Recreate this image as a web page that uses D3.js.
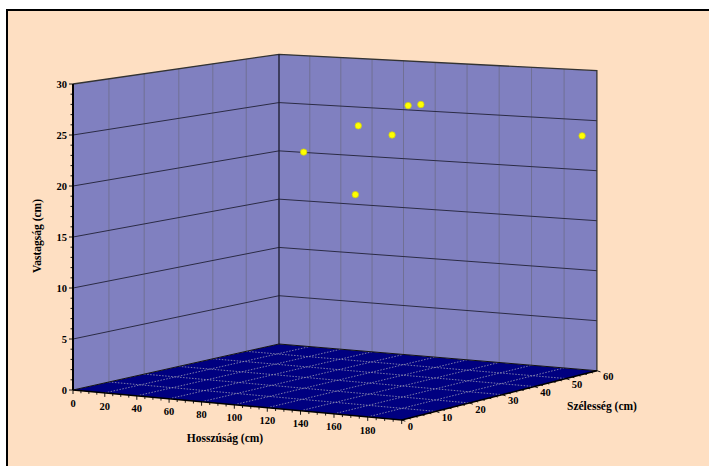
<!DOCTYPE html>
<html><head><meta charset="utf-8">
<script src="https://cdn.jsdelivr.net/npm/d3@7"></script>
<style>body{margin:0;background:#fff}svg{display:block}</style>
</head><body><svg id="c" width="709" height="466"></svg>
<script>
// ---- data ----
const lengthVals = [58, 82, 111, 93, 93, 107, 191];      // Hosszúság (cm)
const widthVals  = [40, 45, 30, 50, 55, 52, 60];         // Szélesség (cm)
const thickVals  = [21.6, 24.2, 18.5, 23.1, 25.8, 26.2, 23.4]; // Vastagság (cm)
const xTicks = [0, 20, 40, 60, 80, 100, 120, 140, 160, 180];
const zTicks = [0, 10, 20, 30, 40, 50, 60];
const yTicks = [0, 5, 10, 15, 20, 25, 30];
const xDomain = [0, 200], zDomain = [0, 60], yDomain = [0, 30];

// ---- scales (normalised box coords) ----
const xs = d3.scaleLinear().domain(xDomain).range([0, 1]);
const zs = d3.scaleLinear().domain(zDomain).range([0, 1]);
const ys = d3.scaleLinear().domain(yDomain).range([0, 1]);

// ---- perspective projection (vertical picture plane) ----
const O = [73, 390], Fr = [401.7, 420], Bk = [279, 344];
const hO = 306, hB = 289.7, hR = 300;
const W2 = hO / hB - 1, W1 = hO / hR - 1 - W2;
const A0 = O[0], B0 = O[1];
const A1 = Fr[0] * (1 + W1) - A0, B1 = Fr[1] * (1 + W1) - B0;
const A2 = Bk[0] * (1 + W2) - A0, B2 = Bk[1] * (1 + W2) - B0;
const B3 = -hO;
function P(x, y, z) {
  const a = xs(x), b = ys(y), c = zs(z);
  const w = 1 + W1 * a + W2 * c;
  return [(A0 + A1 * a + A2 * c) / w, (B0 + B1 * a + B2 * c + B3 * b) / w];
}

const svg = d3.select('#c');
const font = "'Liberation Serif','Times New Roman',serif";
const poly = pts => 'M' + pts.map(p => p.join(',')).join('L') + 'Z';
const seg = (p, q) => 'M' + p.join(',') + 'L' + q.join(',');

// frame
svg.append('rect').attr('x', 7).attr('y', 10).attr('width', 730).attr('height', 480)
  .attr('fill', '#FEDFC2').attr('stroke', '#000').attr('stroke-width', 2);

const [x0, x1] = xDomain, [z0, z1] = zDomain, [y0, y1] = yDomain;

// floor
svg.append('path').attr('d', poly([P(x0,y0,z0), P(x1,y0,z0), P(x1,y0,z1), P(x0,y0,z1)]))
  .attr('fill', '#000080');
const fg = svg.append('g').attr('stroke', '#9a9ab4').attr('stroke-width', 0.8)
  .attr('stroke-dasharray', '1.5,1.5').attr('fill', 'none');
d3.range(x0 + 20, x1, 20).forEach(x => fg.append('path').attr('d', seg(P(x,y0,z0), P(x,y0,z1))));
d3.range(z0 + 10, z1, 10).forEach(z => fg.append('path').attr('d', seg(P(x0,y0,z), P(x1,y0,z))));

// walls
const wallFill = '#8080C0';
svg.append('path').attr('d', poly([P(x0,y0,z0), P(x0,y0,z1), P(x0,y1,z1), P(x0,y1,z0)]))
  .attr('fill', wallFill);
svg.append('path').attr('d', poly([P(x0,y0,z1), P(x1,y0,z1), P(x1,y1,z1), P(x0,y1,z1)]))
  .attr('fill', wallFill);

// wall vertical gridlines
const vg = svg.append('g').attr('stroke', '#6e6e8e').attr('stroke-width', 0.9).attr('fill', 'none');
d3.range(z0 + 10, z1, 10).forEach(z => vg.append('path').attr('d', seg(P(x0,y0,z), P(x0,y1,z))));
d3.range(x0 + 20, x1, 20).forEach(x => vg.append('path').attr('d', seg(P(x,y0,z1), P(x,y1,z1))));

// wall horizontal gridlines
const hg = svg.append('g').attr('stroke', '#2b2b45').attr('stroke-width', 1).attr('fill', 'none');
yTicks.filter(y => y > y0 && y < y1).forEach(y => {
  hg.append('path').attr('d', 'M' + [P(x0,y,z0), P(x0,y,z1), P(x1,y,z1)].map(p => p.join(',')).join('L'));
});

// edges
const eg = svg.append('g').attr('fill', 'none');
eg.append('path').attr('d', 'M' + [P(x0,y1,z0), P(x0,y1,z1), P(x1,y1,z1), P(x1,y0,z1)].map(p => p.join(',')).join('L'))
  .attr('stroke', '#333').attr('stroke-width', 1.3);
eg.append('path').attr('d', seg(P(x0,y0,z1), P(x0,y1,z1))).attr('stroke', '#1a1a2a').attr('stroke-width', 1.3);
eg.append('path').attr('d', 'M' + [P(x0,y0,z0), P(x0,y0,z1), P(x1,y0,z1)].map(p => p.join(',')).join('L'))
  .attr('stroke', '#111').attr('stroke-width', 1);
eg.append('path').attr('d', 'M' + [P(x0,y0,z0), P(x1,y0,z0), P(x1,y0,z1)].map(p => p.join(',')).join('L'))
  .attr('stroke', '#000').attr('stroke-width', 1.5);
eg.append('path').attr('d', seg(P(x0,y0,z0), P(x0,y1,z0))).attr('stroke', '#000').attr('stroke-width', 2);

// ticks
const tg = svg.append('g').attr('stroke', '#000').attr('stroke-width', 0.9);
d3.range(y0, y1 + 0.01, 1).forEach(y => {
  const p = P(x0, y, z0), L = (y % 5 === 0) ? 4 : 2.5;
  tg.append('path').attr('d', seg([p[0] - L, p[1]], p));
});
d3.range(x0, x1 + 0.01, 5).forEach(x => {
  const p = P(x, y0, z0), L = (x % 20 === 0) ? 4 : 2.5;
  tg.append('path').attr('d', seg(p, [p[0], p[1] + L]));
});
d3.range(z0, z1 + 0.01, 2).forEach(z => {
  const p = P(x1, y0, z), L = (z % 10 === 0) ? 4 : 2.5;
  tg.append('path').attr('d', seg(p, [p[0] + L * 0.9, p[1] + L * 0.3]));
});

// tick labels
const lab = svg.append('g').attr('font-family', font).attr('font-weight', 'bold')
  .attr('font-size', '10.5px').attr('fill', '#000');
yTicks.forEach(y => {
  const p = P(x0, y, z0);
  lab.append('text').attr('x', p[0] - 6).attr('y', p[1]).attr('dy', '0.35em')
    .attr('text-anchor', 'end').text(y);
});
xTicks.forEach(x => {
  const p = P(x, y0, z0);
  lab.append('text').attr('x', p[0]).attr('y', p[1] + 13).attr('dy', '0.35em')
    .attr('text-anchor', 'middle').text(x);
});
zTicks.forEach(z => {
  const p = P(x1, y0, z);
  lab.append('text').attr('x', p[0] + 6).attr('y', p[1] + 6).attr('dy', '0.35em')
    .attr('text-anchor', 'start').text(z);
});

// axis titles
const tt = svg.append('g').attr('font-family', font).attr('font-weight', 'bold')
  .attr('font-size', '11.5px').attr('fill', '#000');
tt.append('text').attr('x', 225).attr('y', 438).attr('dy', '0.35em').attr('text-anchor', 'middle').text('Hosszúság (cm)');
tt.append('text').attr('x', 567).attr('y', 406).attr('dy', '0.35em').attr('text-anchor', 'start').text('Szélesség (cm)');
tt.append('text').attr('transform', 'translate(37,236) rotate(-90)').attr('dy', '0.35em')
  .attr('text-anchor', 'middle').text('Vastagság (cm)');

// points
const pts = lengthVals.map((l, i) => P(l, thickVals[i], widthVals[i]));
svg.append('g').selectAll('circle').data(pts).join('circle')
  .attr('cx', d => d[0]).attr('cy', d => d[1]).attr('r', 3.2)
  .attr('fill', '#FFFF00').attr('stroke', '#cfcf10').attr('stroke-width', 0.8);
</script>
</body></html>
